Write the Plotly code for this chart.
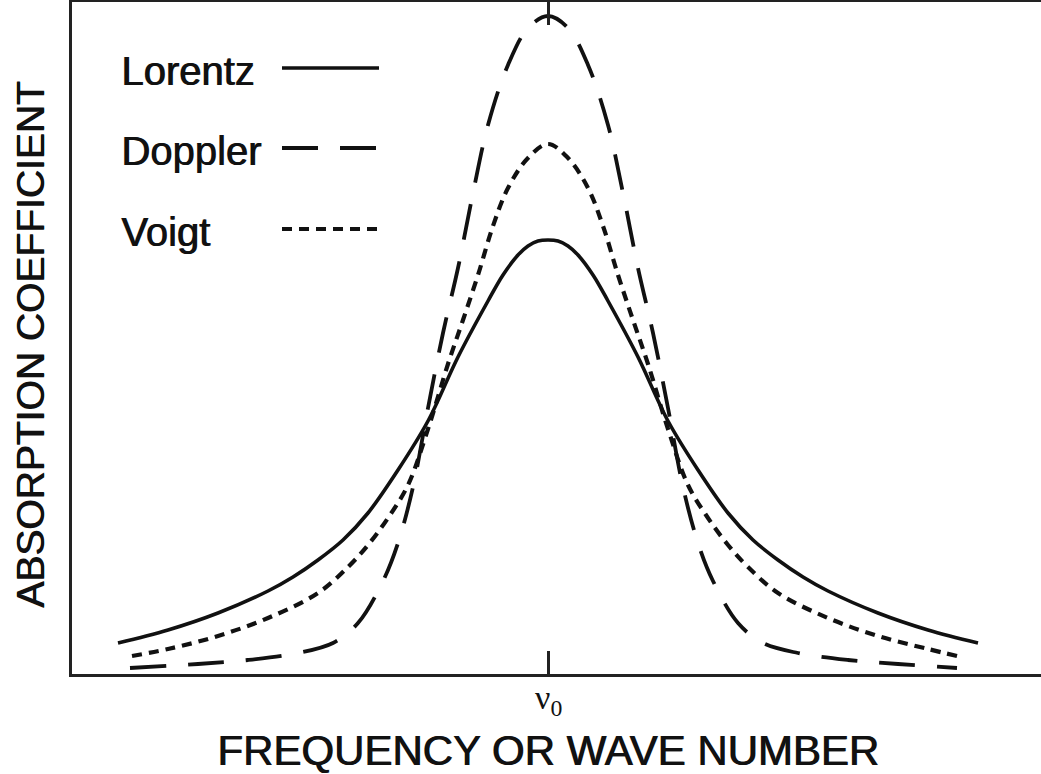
import plotly.graph_objects as go

# Values (x: offset from line centre, y: absorption, arbitrary units)
lorentz_x = [-430, -380, -330, -280, -255, -230, -205, -180, -150, -120, -90, -60, -45, -30, -20, -10, 0,
             10, 20, 30, 45, 60, 90, 120, 150, 180, 205, 230, 255, 280, 330, 380, 430]
lorentz_y = [30, 43, 60, 82, 96, 113, 133, 160, 203, 252, 316, 372, 398, 418, 427, 432, 433,
             432, 427, 418, 398, 372, 316, 252, 203, 160, 133, 113, 96, 82, 60, 43, 30]

doppler_x = [-418, -350, -300, -250, -215, -190, -165, -150, -135, -120, -105, -90, -75, -60, -40, -20, 0,
             20, 40, 60, 75, 90, 105, 120, 135, 150, 165, 190, 215, 250, 300, 350, 409]
doppler_y = [5, 9, 13, 20, 30, 50, 92, 130, 186, 265, 340, 405, 480, 548, 608, 645, 657,
             645, 608, 548, 480, 405, 340, 265, 186, 130, 92, 50, 30, 20, 13, 9, 5]

voigt_x = [-416, -380, -330, -280, -230, -200, -180, -160, -140, -120, -100, -85, -70, -55, -40, -20, 0,
           20, 40, 55, 70, 85, 100, 120, 140, 160, 180, 200, 230, 280, 330, 380, 409]
voigt_y = [17, 24, 37, 55, 80, 106, 128, 155, 188, 244, 309, 353, 398, 447, 485, 515, 529,
           515, 485, 447, 398, 353, 309, 244, 188, 155, 128, 106, 80, 55, 37, 24, 17]

series_names = ["Lorentz", "Doppler", "Voigt"]
tick_vals = [0]
tick_text = ["ν<sub>0</sub>"]

INK = "#111111"
SANS = "Liberation Sans, Arial, Helvetica, sans-serif"
MEDIUM = "0.9px 0px 0px #111111"
dashes = {"Lorentz": "solid", "Doppler": "36px,22px", "Voigt": "10px,7px"}
widths = {"Lorentz": 3.6, "Doppler": 3.8, "Voigt": 4.2}

fig = go.Figure()
for name, xs, ys in [("Lorentz", lorentz_x, lorentz_y),
                     ("Doppler", doppler_x, doppler_y),
                     ("Voigt", voigt_x, voigt_y)]:
    fig.add_trace(go.Scatter(x=xs, y=ys, mode="lines", name=name,
                             line=dict(color=INK, width=widths[name], dash=dashes[name],
                                       shape="spline", smoothing=1.0),
                             showlegend=False, hoverinfo="skip"))

# Hand-drawn style legend: label on the left, line sample on the right
W, H = 1041, 774
ML, MR, MT, MB = 72, 0, 2, 100
pw, ph = W - ML - MR, H - MT - MB


def px_to_paper_x(px):
    return (px - ML) / pw


def px_to_paper_y(py):
    return (H - MB - py) / ph


legend_rows = [("Lorentz", 68), ("Doppler", 148), ("Voigt", 229)]
annotations = []
shapes = []
for name, ycap in legend_rows:
    annotations.append(dict(text=name, xref="paper", yref="paper",
                            x=px_to_paper_x(119), y=px_to_paper_y(ycap + 3),
                            xanchor="left", yanchor="middle", showarrow=False,
                            font=dict(family=SANS, size=40, color=INK, shadow=MEDIUM)))
    shapes.append(dict(type="line", xref="paper", yref="paper",
                       x0=px_to_paper_x(282), x1=px_to_paper_x(379),
                       y0=px_to_paper_y(ycap), y1=px_to_paper_y(ycap),
                       line=dict(color=INK, width=widths[name], dash=dashes[name])))

# tick label for the line centre
annotations.append(dict(text=tick_text[0], xref="x", yref="paper",
                        x=tick_vals[0], y=0, yshift=-(677 - (H - MB)),
                        xanchor="center", yanchor="top", showarrow=False,
                        font=dict(family="Liberation Serif, Times New Roman, serif", size=34, color=INK)))

annotations.append(dict(text="FREQUENCY OR WAVE NUMBER", xref="x", yref="paper",
                        x=0, y=0, yshift=-(750 - (H - MB)), xanchor="center", yanchor="middle",
                        showarrow=False, font=dict(family=SANS, size=42, color=INK, shadow=MEDIUM)))
annotations.append(dict(text="ABSORPTION COEFFICIENT", xref="paper", yref="paper",
                        x=0, xshift=-(ML - 30), y=px_to_paper_y(345), textangle=-90,
                        xanchor="center", yanchor="middle", showarrow=False,
                        font=dict(family=SANS, size=39, color=INK, shadow=MEDIUM)))

fig.update_layout(
    width=W, height=H,
    margin=dict(l=ML, r=MR, t=MT, b=MB, pad=0),
    paper_bgcolor="white", plot_bgcolor="white",
    annotations=annotations, shapes=shapes,
    xaxis=dict(range=[-476, 493], showgrid=False, zeroline=False,
               showline=True, linecolor="#222222", linewidth=3, mirror="ticks",
               ticks="inside", ticklen=23, tickwidth=3, tickcolor="#222222",
               tickvals=tick_vals, showticklabels=False),
    yaxis=dict(range=[-1, 671], showgrid=False, zeroline=False,
               showline=True, linecolor="#222222", linewidth=3,
               showticklabels=False, ticks=""),
)

fig.write_html("out.html")
